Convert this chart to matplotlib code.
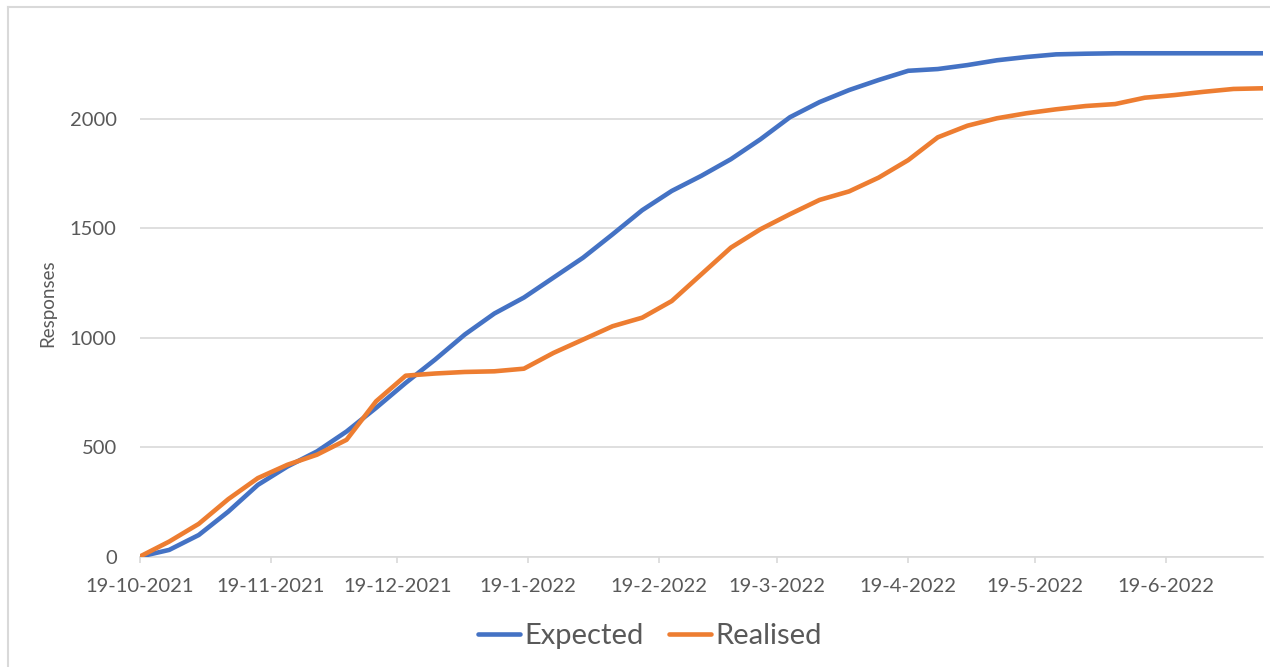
import matplotlib

matplotlib.use("Agg")
import matplotlib.dates as mdates
import matplotlib.pyplot as plt
import pandas as pd
from matplotlib.lines import Line2D

# weekly reporting dates and cumulative responses
week_dates = pd.date_range("2021-10-19", periods=39, freq="7D")
expected = [
    0, 31, 99, 206, 328, 412, 481, 572, 680, 794,
    901, 1015, 1111, 1184, 1275, 1366, 1473, 1583, 1671, 1740,
    1816, 1907, 2008, 2077, 2132, 2178, 2220, 2228, 2246, 2268,
    2283, 2295, 2298, 2300, 2300, 2300, 2300, 2300, 2300,
]
realised = [
    0, 69, 150, 263, 359, 420, 466, 534, 710, 827,
    837, 844, 847, 859, 931, 992, 1053, 1092, 1168, 1290,
    1412, 1496, 1565, 1630, 1669, 1732, 1812, 1916, 1969, 2003,
    2026, 2044, 2059, 2068, 2097, 2109, 2124, 2137, 2140,
]
tick_dates = pd.to_datetime([
    "2021-10-19", "2021-11-19", "2021-12-19", "2022-01-19", "2022-02-19",
    "2022-03-19", "2022-04-19", "2022-05-19", "2022-06-19",
])
tick_labels = [
    "19-10-2021", "19-11-2021", "19-12-2021", "19-1-2022", "19-2-2022",
    "19-3-2022", "19-4-2022", "19-5-2022", "19-6-2022",
]
y_ticks = [0, 500, 1000, 1500, 2000]

COLORS = {
    "expected": "#4472C4",
    "realised": "#ED7D31",
    "grid": "#D9D9D9",
    "text": "#595959",
}
plt.rcParams["font.family"] = ["Lato", "DejaVu Sans"]

W, H = 1270, 667
fig = plt.figure(figsize=(W / 100, H / 100), dpi=100)
fig.patch.set_facecolor("white")

left, right, top, bottom = 139.6, 1263, 9.5, 556.7
ax = fig.add_axes([left / W, 1 - bottom / H, (right - left) / W, (bottom - top) / H])

ax.plot(week_dates, expected, color=COLORS["expected"], linewidth=3.3,
        solid_capstyle="round", solid_joinstyle="round", label="Expected")
ax.plot(week_dates, realised, color=COLORS["realised"], linewidth=3.3,
        solid_capstyle="round", solid_joinstyle="round", label="Realised")

ax.set_ylim(0, 2500)
ax.set_yticks(y_ticks)
ax.set_xlim(week_dates[0], week_dates[-1])
ax.set_xticks(mdates.date2num(tick_dates))
ax.set_xticklabels(tick_labels)

ax.grid(axis="y", color=COLORS["grid"], linewidth=1.2)
ax.set_axisbelow(True)
for side in ["top", "right", "left"]:
    ax.spines[side].set_visible(False)
ax.spines["bottom"].set_color(COLORS["grid"])
ax.spines["bottom"].set_linewidth(1.2)
ax.spines["bottom"].set_zorder(0.5)
ax.tick_params(axis="x", direction="out", length=4.5, width=1.2, color=COLORS["grid"],
               labelsize=14.5, labelcolor=COLORS["text"], pad=10.5)
ax.tick_params(axis="y", length=0, labelsize=14.5, labelcolor=COLORS["text"], pad=16.5)

fig.text(48 / W, 1 - 303 / H, "Responses", rotation=90, ha="center", va="center",
         fontsize=13.5, color=COLORS["text"])

fig.legend(loc="center", bbox_to_anchor=(650 / W, 1 - 636 / H), ncol=2, frameon=False,
           fontsize=21, handlelength=1.44, handletextpad=0.15, columnspacing=0.85,
           labelcolor=COLORS["text"])

# light chart-area frame, as in the spreadsheet export
fig.add_artist(Line2D([8 / W, 1], [1 - 7 / H, 1 - 7 / H], color=COLORS["grid"], linewidth=1.5))
fig.add_artist(Line2D([8 / W, 8 / W], [0, 1 - 7 / H], color=COLORS["grid"], linewidth=1.5))

fig.savefig("out.png", dpi=100, facecolor="white")
